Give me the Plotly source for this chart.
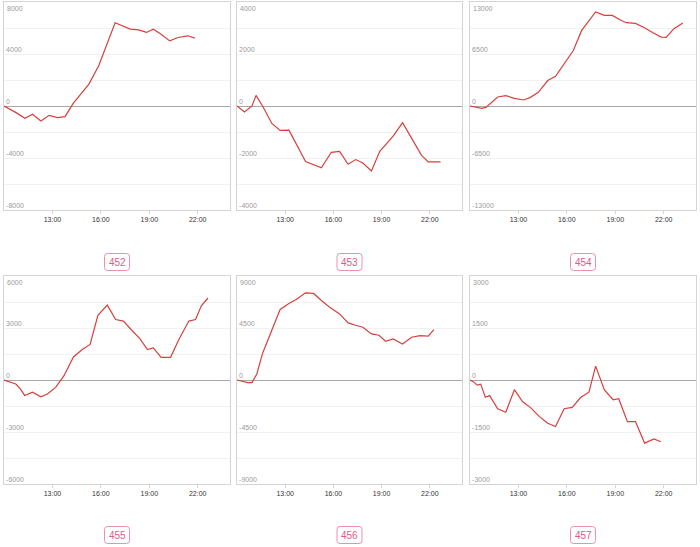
import plotly.graph_objects as go

# ---------------- data ----------------
names = ["452", "453", "454", "455", "456", "457"]
y_limits = [8000, 4000, 13000, 6000, 9000, 3000]

t452 = ["10:00", "10:45", "11:18", "11:46", "12:17", "12:48", "13:19", "13:47", "14:17", "15:15",
        "15:52", "16:53", "17:49", "18:20", "18:50", "19:15", "19:40", "20:16", "20:47", "21:24", "21:49"]
v452 = [0, -510, -950, -640, -1160, -720, -900, -820, 200, 1670,
        3090, 6400, 5910, 5860, 5660, 5910, 5580, 5010, 5270, 5400, 5220]

t453 = ["10:00", "10:28", "10:56", "11:11", "11:37", "12:10", "12:41", "13:14", "14:16", "15:15",
        "15:52", "16:23", "16:55", "17:23", "17:50", "18:22", "18:53", "19:43", "20:18", "21:29",
        "21:54", "22:40"]
v453 = [0, -230, 0, 410, -30, -670, -940, -930, -2140, -2380,
        -1780, -1750, -2240, -2060, -2190, -2500, -1740, -1160, -640, -1900,
        -2150, -2150]

t454 = ["10:00", "10:26", "10:44", "10:59", "11:21", "11:43", "12:13", "12:45", "13:19", "13:43",
        "14:14", "14:49", "15:18", "15:50", "16:24", "16:55", "17:25", "17:47", "18:19", "18:49",
        "19:17", "19:41", "20:15", "20:49", "21:20", "21:51", "22:09", "22:38", "23:11"]
v454 = [0, -130, -290, -170, 540, 1130, 1300, 960, 750, 1050,
        1710, 3180, 3720, 5270, 6940, 9450, 10830, 11750, 11330, 11330,
        10780, 10410, 10320, 9780, 9150, 8610, 8570, 9660, 10370]

t455 = ["10:00", "10:32", "10:44", "11:00", "11:17", "11:46", "12:17", "12:41", "13:12", "13:43",
        "14:18", "14:51", "15:20", "15:49", "16:24", "16:55", "17:24", "17:53", "18:25", "18:53",
        "19:15", "19:44", "20:19", "20:50", "21:27", "21:52", "22:13", "22:38"]
v455 = [0, -170, -230, -500, -890, -700, -970, -810, -430, 250,
        1330, 1760, 2050, 3730, 4320, 3490, 3400, 2900, 2390, 1760,
        1850, 1310, 1310, 2340, 3400, 3490, 4270, 4730]

t456 = ["10:00", "10:22", "10:40", "10:56", "11:14", "11:36", "12:08", "12:41", "13:14", "13:41",
        "14:16", "14:46", "15:15", "15:46", "16:23", "16:55", "17:23", "17:50", "18:22", "18:50",
        "19:15", "19:43", "20:18", "20:52", "21:23", "21:54", "22:15"]
v456 = [0, -120, -230, -230, 520, 2340, 4220, 6100, 6620, 6970,
        7540, 7490, 6880, 6300, 5720, 4940, 4740, 4570, 3990, 3870,
        3350, 3560, 3120, 3700, 3840, 3790, 4360]

t457 = ["10:00", "10:11", "10:27", "10:40", "10:57", "11:13", "11:43", "12:13", "12:45", "13:15",
        "13:47", "14:17", "14:49", "15:18", "15:50", "16:20", "16:52", "17:22", "17:47", "18:19",
        "18:52", "19:13", "19:45", "20:15", "20:49", "21:24", "21:49"]
v457 = [0, -40, -150, -120, -500, -450, -830, -930, -280, -620,
        -810, -1050, -1250, -1340, -830, -790, -500, -350, 400, -280,
        -570, -540, -1200, -1200, -1820, -1700, -1780]

times = [t452, t453, t454, t455, t456, t457]
values = [v452, v453, v454, v455, v456, v457]
x_ticks = ["13:00", "16:00", "19:00", "22:00"]

# ---------------- layout ----------------
W, H = 700, 547
DAY = "2024-01-01 "
col_px = [(4, 230), (237, 462), (470, 696)]
row_px = [(2, 210), (276, 484)]
label_y_px = [262, 535]

LINE = "#d6403c"
PINK = "#e05a88"
PINK_BORDER = "#eb90b0"
FONT = "Liberation Sans, Arial, Helvetica, sans-serif"
TICK_GRAY = "#9a9a9a"

fig = go.Figure()
layout = dict(
    width=W, height=H, margin=dict(l=0, r=0, t=0, b=0),
    paper_bgcolor="white", plot_bgcolor="white", showlegend=False,
    font=dict(family=FONT),
)
annotations = []
shapes = []


def rounded_box(cx, cy, w, h, r):
    x0, x1 = cx - w / 2, cx + w / 2
    y0, y1 = cy - h / 2, cy + h / 2
    X = lambda v: v / W
    Y = lambda v: 1 - v / H
    return (f"M {X(x0 + r)},{Y(y0)} L {X(x1 - r)},{Y(y0)} Q {X(x1)},{Y(y0)} {X(x1)},{Y(y0 + r)} "
            f"L {X(x1)},{Y(y1 - r)} Q {X(x1)},{Y(y1)} {X(x1 - r)},{Y(y1)} "
            f"L {X(x0 + r)},{Y(y1)} Q {X(x0)},{Y(y1)} {X(x0)},{Y(y1 - r)} "
            f"L {X(x0)},{Y(y0 + r)} Q {X(x0)},{Y(y0)} {X(x0 + r)},{Y(y0)} Z")


for i in range(6):
    r, c = divmod(i, 3)
    n = i + 1
    xs = "" if n == 1 else str(n)
    xa, ya = "x" + xs, "y" + xs
    m = y_limits[i]

    fig.add_trace(go.Scatter(
        x=[DAY + t for t in times[i]], y=values[i], mode="lines",
        line=dict(color=LINE, width=1.2), xaxis=xa, yaxis=ya, hoverinfo="x+y",
    ))

    xd = (col_px[c][0] / W, col_px[c][1] / W)
    yd = (1 - row_px[r][1] / H, 1 - row_px[r][0] / H)
    quarter = [m * k / 4 for k in range(-4, 5)]
    ttext = [str(int(v)) if (k % 2 == 0 and k != 8) else "" for k, v in enumerate(quarter)]

    layout["xaxis" + xs] = dict(
        domain=xd, anchor=ya, type="date",
        range=[DAY + "10:00", "2024-01-02 00:00"],
        tickvals=[DAY + t for t in x_ticks], ticktext=x_ticks,
        showgrid=False, zeroline=False,
        showline=True, mirror=True, linecolor="#d4d4d4", linewidth=1,
        ticks="outside", ticklen=3, tickcolor="#d4d4d4",
        tickfont=dict(size=7, color="#333333"),
    )
    layout["yaxis" + xs] = dict(
        domain=yd, anchor=xa, range=[-m, m],
        tickvals=quarter, ticktext=ttext,
        ticklabelposition="inside top", ticks="",
        showgrid=True, gridcolor="#f1f1f1", gridwidth=1,
        zeroline=True, zerolinecolor="#a8a8a8", zerolinewidth=1,
        showline=True, mirror=True, linecolor="#d4d4d4", linewidth=1,
        tickfont=dict(size=7, color=TICK_GRAY),
    )
    # top y label sits just below the top edge, inside the plot
    annotations.append(dict(
        x=0, y=1, xref=xa + " domain", yref=ya + " domain", text=str(m),
        showarrow=False, xanchor="left", yanchor="top", xshift=1, yshift=-1,
        font=dict(size=7, color=TICK_GRAY, family=FONT),
    ))

    cx = (col_px[c][0] + col_px[c][1]) / 2
    cy = label_y_px[r]
    annotations.append(dict(
        x=cx / W, y=1 - cy / H, xref="paper", yref="paper", text=names[i],
        showarrow=False, font=dict(size=10, color=PINK, family=FONT),
        xanchor="center", yanchor="middle",
    ))
    shapes.append(dict(
        type="path", xref="paper", yref="paper", path=rounded_box(cx, cy, 25, 17, 3),
        line=dict(color=PINK_BORDER, width=1), fillcolor="rgba(0,0,0,0)", layer="above",
    ))

layout["annotations"] = annotations
layout["shapes"] = shapes
fig.update_layout(**layout)
fig.write_html(
    "out.html",
    config={"displayModeBar": False},
    post_script="document.body.style.margin='0';document.body.style.overflow='hidden';",
)
